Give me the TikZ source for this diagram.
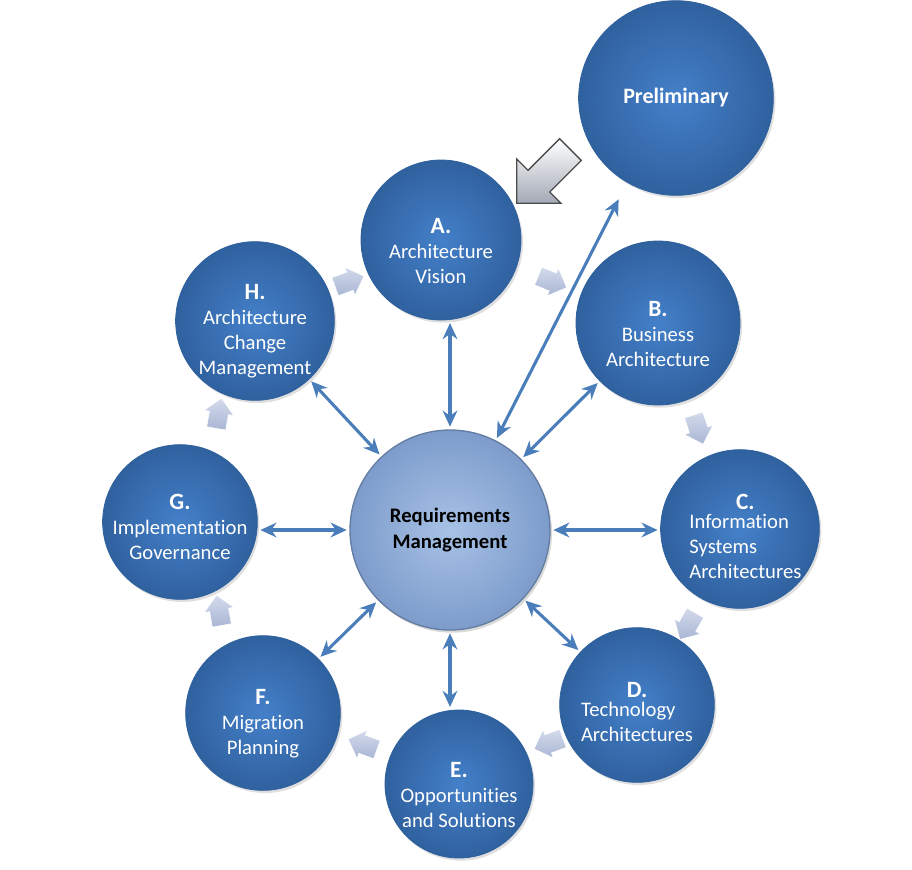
\documentclass[tikz,border=0pt]{standalone}
\usepackage{fontspec}
\setmainfont{Carlito}[Ligatures=NoCommon]
\usepackage{xcolor}
\usepackage{tikz}
\usetikzlibrary{shapes.geometric, shapes.arrows, arrows.meta, shadows, calc}
\definecolor{admBlueLight}{HTML}{4480C9}
\definecolor{admBlueDark}{HTML}{30619F}
\definecolor{admHub}{HTML}{A8C2E6}
\definecolor{admHubDark}{HTML}{7D9CCB}
\definecolor{admLink}{HTML}{4A7EBB}
\definecolor{admFlow}{HTML}{A9B6D4}
\definecolor{admFlowLight}{HTML}{D3DAEB}
\definecolor{admSilver}{HTML}{A3A9B5}
\newcommand{\phasehead}[1]{{\fontsize{17.5}{19}\selectfont\bfseries #1}}
\tikzset{
  adm/phase/.style    = {circle, inner sep=0pt, draw=admBlueDark, line width=0.6pt,
                         inner color=admBlueLight, outer color=admBlueDark,
                         drop shadow={opacity=0.25, shadow xshift=1.5pt, shadow yshift=-2pt}},
  adm/caption/.style  = {align=center, text=white, font=\fontsize{15.5}{18.75}\selectfont,
                         inner sep=0pt, yshift=-8pt},
  adm/hub/.style      = {circle, inner sep=0pt, draw=admHubDark!80!black, line width=1pt,
                         inner color=admHub, outer color=admHubDark, align=center,
                         font=\fontsize{15.5}{20}\selectfont\bfseries, text=black,
                         drop shadow={opacity=0.3, shadow xshift=1.5pt, shadow yshift=-2pt}},
  adm/link/.style     = {{Stealth[length=12pt,width=11pt]}-{Stealth[length=12pt,width=11pt]},
                         line width=2.3pt, draw=admLink, shorten >=2pt, shorten <=2pt},
  adm/flow/.style     = {single arrow, single arrow head extend=4pt, minimum height=23pt,
                         inner xsep=0pt, inner ysep=7pt, top color=admFlowLight,
                         bottom color=admFlow, draw=white, line width=0.4pt},
  adm/entry/.style    = {single arrow, single arrow head extend=12pt, minimum height=57pt,
                         inner xsep=0pt, inner ysep=11pt, top color=white,
                         bottom color=admSilver, draw=black!70, line width=1pt},
}
\begin{document}
\begin{tikzpicture}[x=0.75pt, y=-0.75pt]
  \useasboundingbox (0,0) rectangle (912,869);
  % phases of the cycle
  \node[adm/phase, minimum size=146pt] (Prelim) at (676,98)
        {\color{white}\fontsize{16.5}{20}\selectfont\bfseries Preliminary};
  \node[adm/phase, minimum size=120pt, label={[adm/caption]center:\phasehead{A.}\\Architecture\\Vision}]
        (A) at (441,240) {};
  \node[adm/phase, minimum size=123pt, label={[adm/caption]center:\phasehead{B.}\\Business\\Architecture}]
        (B) at (658,323) {};
  \node[adm/phase, minimum size=119pt, label={[adm/caption, xshift=4pt]center:\phasehead{C.}\\
        \begin{tabular}{@{}l@{}}Information\\Systems\\Architectures\end{tabular}}]
        (C) at (740,529) {};
  \node[adm/phase, minimum size=116pt, label={[adm/caption]center:\phasehead{D.}\\
        \begin{tabular}{@{}l@{}}Technology\\Architectures\end{tabular}}]
        (D) at (637,705) {};
  \node[adm/phase, minimum size=111pt, label={[adm/caption]center:\phasehead{E.}\\Opportunities\\and Solutions}]
        (E) at (459,784) {};
  \node[adm/phase, minimum size=116pt, label={[adm/caption]center:\phasehead{F.}\\Migration\\Planning}]
        (F) at (263,713) {};
  \node[adm/phase, minimum size=116pt, label={[adm/caption, yshift=4pt]center:\phasehead{G.}\\Implementation\\Governance}]
        (G) at (180,522) {};
  \node[adm/phase, minimum size=119pt, label={[adm/caption]center:\phasehead{H.}\\Architecture\\Change\\Management}]
        (H) at (255,321) {};
  % hub
  \node[adm/hub, minimum size=150pt] (Req) at (450,530) {Requirements\\Management};
  % cycle arrows
  \node[adm/flow, rotate=20]   (sHA) at (345,283) {};
  \node[adm/flow, rotate=-22]  (sAB) at (548,280) {};
  \node[adm/flow, rotate=-72]  (sBC) at (697,425) {};
  \node[adm/flow, rotate=-120] (sCD) at (690,622) {};
  \node[adm/flow, rotate=200]  (sDE) at (553,742) {};
  \node[adm/flow, rotate=160]  (sEF) at (367,746) {};
  \node[adm/flow, rotate=100]  (sFG) at (220,615) {};
  \node[adm/flow, rotate=80]   (sGH) at (218,418) {};
  \node[adm/entry, rotate=225] (entry) at (549,171) {};
  % links to the hub
  \draw[adm/link] (A.south -| Req.north) -- (Req.north);
  \draw[adm/link] (B) -- (Req);
  \draw[adm/link] (Req.east) -- (C.west |- Req.east);
  \draw[adm/link] (D) -- (Req);
  \draw[adm/link] (E.north -| Req.south) -- (Req.south);
  \draw[adm/link] (F) -- (Req);
  \draw[adm/link] (G.east |- Req.west) -- (Req.west);
  \draw[adm/link] (H) -- (Req);
  \draw[adm/link, shorten <=14pt] (Prelim.240) -- (Req);
\end{tikzpicture}
\end{document}
